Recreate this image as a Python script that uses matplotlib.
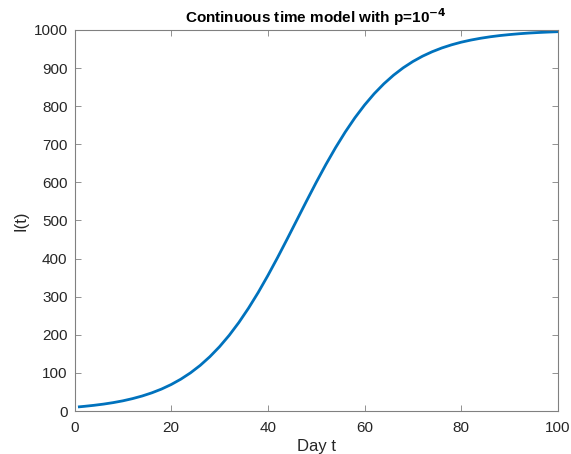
import matplotlib
matplotlib.use("Agg")
import matplotlib.pyplot as plt

days = [1, 2, 4, 6, 8, 10, 12, 14, 16, 18, 20, 22, 24, 26, 28, 30, 32, 34, 36, 38,
        40, 42, 44, 46, 48, 50, 52, 54, 56, 58, 60, 62, 64, 66, 68, 70, 72, 74, 76,
        78, 80, 82, 84, 86, 88, 90, 92, 94, 96, 98, 100]
infected = [11.0, 12.2, 14.9, 18.1, 22.0, 26.7, 32.5, 39.4, 47.7, 57.6, 69.5, 83.6,
            100.2, 119.7, 142.5, 168.7, 198.6, 232.3, 269.9, 311.0, 355.5, 402.5,
            451.4, 501.2, 551.0, 599.9, 646.8, 691.0, 732.0, 769.4, 802.9, 832.7,
            858.7, 881.3, 900.7, 917.2, 931.2, 942.9, 952.8, 961.0, 967.9, 973.5,
            978.2, 982.1, 985.3, 987.9, 990.1, 991.9, 993.3, 994.5, 995.5]
xticks = [0, 20, 40, 60, 80, 100]
yticks = [0, 100, 200, 300, 400, 500, 600, 700, 800, 900, 1000]

plt.rcParams['font.family'] = ['Liberation Sans', 'DejaVu Sans']
fig = plt.figure(figsize=(5.71, 4.54), dpi=100)
ax = fig.add_axes([0.1305, 0.0947, 0.8465, 0.8393])
ax.plot(days, infected, color='#0072BD', linewidth=2)
ax.set_xlim(0, 100)
ax.set_ylim(0, 1000)
ax.set_xticks(xticks)
ax.set_yticks(yticks)
ax.tick_params(direction='in', top=True, right=True, length=4, width=0.6,
               colors='#808080', labelcolor='#262626', labelsize=11)
ax.tick_params(axis='x', pad=7)
ax.tick_params(axis='y', pad=5)
for s in ax.spines.values():
    s.set_color('#808080')
    s.set_linewidth(0.8)
ax.set_xlabel('Day t', fontsize=12, color='#262626', labelpad=3)
ax.set_ylabel('I(t)', fontsize=12, color='#262626', labelpad=4)
ax.set_title(r'Continuous time model with p=10$^{\mathbf{-4}}$', fontsize=11,
             fontweight='bold', color='#000000', pad=5)
fig.savefig('out.png', dpi=100)
